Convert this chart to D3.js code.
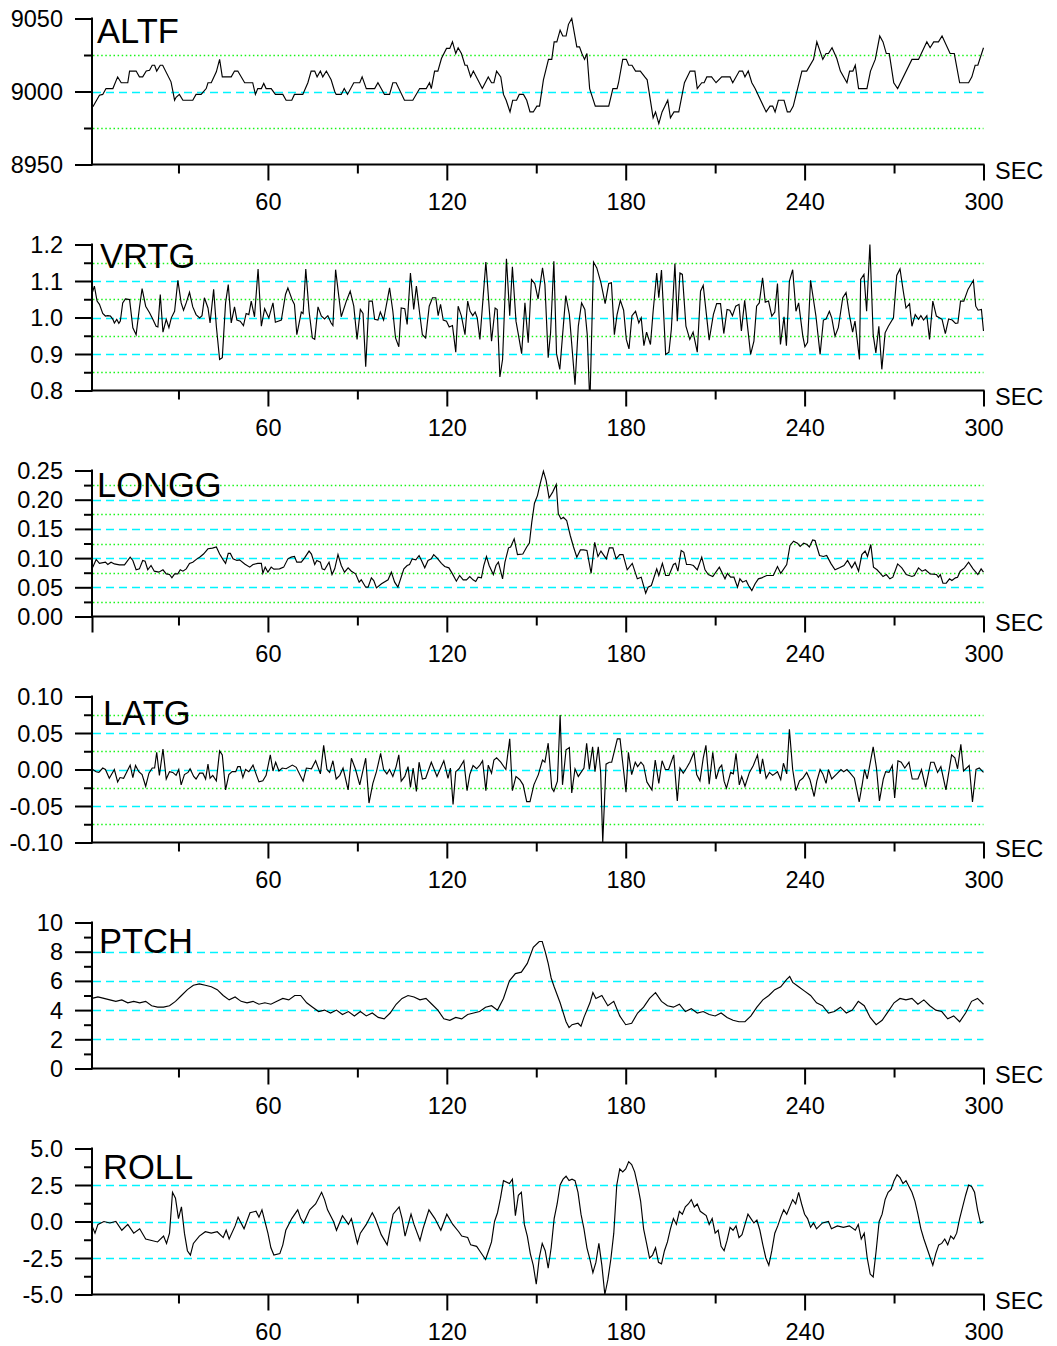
<!DOCTYPE html>
<html>
<head>
<meta charset="utf-8">
<script src="https://cdn.jsdelivr.net/npm/d3@7"></script>
<style>
  html, body { margin: 0; padding: 0; background: #fff; }
  svg { display: block; }
  text { font-family: "Liberation Sans", Arial, Helvetica, sans-serif; fill: #000; }
</style>
</head>
<body>
<svg id="chart" width="1057" height="1346"></svg>
<script>
// ---------------- DATA (time in SEC, value) ----------------
const xMajorTicks = [60, 120, 180, 240, 300];
const xMinorTicks = [30, 90, 150, 210, 270];
const xLabel = "SEC";

const panelNames = ["ALTF", "VRTG", "LONGG", "LATG", "PTCH", "ROLL"];
const panelDomains = [[8950, 9050], [0.8, 1.2], [0, 0.25], [-0.10, 0.10], [0, 10], [-5, 5]];
const panelMajorTicks = [
  [8950, 9000, 9050],
  [0.8, 0.9, 1.0, 1.1, 1.2],
  [0, 0.05, 0.10, 0.15, 0.20, 0.25],
  [-0.10, -0.05, 0, 0.05, 0.10],
  [0, 2, 4, 6, 8, 10],
  [-5, -2.5, 0, 2.5, 5]
];
const panelMinorTicks = [
  [8975, 9025],
  [0.85, 0.95, 1.05, 1.15],
  [0.025, 0.075, 0.125, 0.175, 0.225],
  [-0.075, -0.025, 0.025, 0.075],
  [1, 3, 5, 7, 9],
  [-3.75, -1.25, 1.25, 3.75]
];
const panelTickFormats = ["d", ".1f", ".2f", ".2f", "d", ".1f"];

const ALTF = [[1.3,8989.5],[3.5,8997.5],[4.6,8998],[5.7,9002],[8,9002],[9.6,9010],[10.8,9006],[13,9006],[13.6,9014],[15.8,9014],[16.9,9010],[18,9010],[19.2,9014],[20.3,9014.6],[21.2,9018],[22,9018],[22.7,9014],[23.9,9018],[24.7,9018],[27.5,9006.6],[28.1,9000.5],[28.7,8994],[29.2,8996],[30.3,8998],[31.5,8994],[34.8,8994],[35.9,8998],[37.6,8998],[39.3,9002],[39.9,9006],[41,9006],[42.7,9013.5],[43.8,9022],[44.7,9010],[47.7,9010],[48.8,9014],[49.9,9014],[52.2,9006],[54.9,9006],[55.8,8998],[56.6,9002],[57.8,9002],[58.6,9005.5],[59.4,9002],[61.1,9002],[62.5,8998],[65,8998],[66.1,8994],[68,8994],[68.9,8998],[71.7,8998],[73.4,9006],[74.5,9014],[75.7,9014],[76.5,9010],[77.6,9014],[78.4,9010],[79.6,9014],[81.2,9008],[82.4,9000],[82.9,8998],[84.6,8998],[85.6,9002],[86.7,8998],[88.8,9006],[90.8,9006],[91.6,9010],[93,9002],[95.8,9002],[96.9,9006],[99.1,8998],[100.8,8998],[101.9,9006],[103,9006],[105.8,8994],[108.6,8994],[110.9,9002],[113.1,9002],[114.2,9006],[114.8,9002],[115.9,9014],[117,9014],[118.2,9022.6],[119.9,9029.5],[121,9029.5],[121.9,9034],[123,9026],[123.8,9030],[124.9,9026],[126.1,9018],[126.8,9018],[128,9010],[128.9,9014],[131.9,9002],[133.9,9010],[135,9006],[135.8,9006],[136.7,9014],[138.1,9010],[139,8998],[139.9,8994],[141.2,8986],[142.1,8994],[143.4,8994],[144.3,8998],[145.7,8998],[146.8,8994],[147.9,8986],[149,8986],[150.2,8990],[151.1,8990],[152.4,9008],[154.1,9022],[155.2,9022],[156,9034],[156.9,9034],[158,9042],[158.9,9038],[160,9038],[160.8,9046],[161.9,9050],[163.6,9030.6],[164.5,9030.6],[165.3,9026],[166.2,9022],[167,9026],[167.9,9002],[169.8,8990],[174.3,8990],[175.7,9002],[177.1,9002],[177.6,9006],[179,9022],[180.2,9022],[181,9018],[182.1,9018],[183.3,9014],[184.9,9014],[186.4,9010],[187.2,9008],[189.2,8982],[190,8986],[191.1,8978],[192.2,8986],[194.1,8994],[195,8982],[196.2,8986],[197.8,8986],[199.7,9006],[201.6,9014],[203.2,9014],[204,9002],[205.5,9006],[206.3,9006],[207.2,9010],[208.8,9010],[210.3,9006],[212.2,9010],[215,9010],[215.9,9006],[218.1,9014],[219.2,9014],[220,9010],[221.1,9014],[222.3,9006],[223.4,9002],[227.1,8986],[228.4,8990],[229.3,8990],[230.1,8986],[231.2,8994],[233.1,8994],[234.2,8986],[235.1,8986],[236.2,8990],[239.1,9014],[240.7,9014],[243,9022],[244.1,9034],[246.1,9022],[247.2,9026],[248,9026],[249.2,9030],[250.8,9022.6],[252,9014],[254.2,9006],[255.1,9014],[256.2,9014],[257,9018],[258.1,9002],[260.9,9002],[262.1,9014],[263.7,9022],[265.2,9038],[266.3,9034],[267.4,9026],[268.4,9026],[269.9,9006],[271.2,9002],[276,9022],[278.2,9022],[281,9034],[282.1,9030],[283.3,9034],[284.9,9034],[286.1,9038],[288.8,9026],[290.2,9026],[292,9006],[295,9006],[296.1,9010],[297.2,9018],[298.1,9018],[300,9030]];

const VRTG = [[1.2,1.07],[1.8,1.086],[2.7,1.045],[3.5,1.036],[4.6,1.011],[5.5,1.004],[6.3,1.005],[7.2,1.004],[8,0.995],[8.5,0.985],[9.3,0.995],[10,0.984],[10.5,0.99],[11.3,1.04],[12.2,1.051],[13.6,1.049],[14.7,0.972],[15.8,0.953],[16.9,1.026],[17.8,1.079],[19,1.031],[20.3,1.013],[21.4,0.995],[22.5,0.976],[23.1,0.974],[23.9,1.063],[24.8,0.96],[25.9,0.995],[26.8,0.972],[27.6,0.999],[28.7,1.017],[29.8,1.102],[30.9,1.04],[31.7,1.02],[32.6,1.04],[33.7,1.069],[34.8,1.029],[35.9,1.008],[37.1,0.999],[37.9,1.005],[38.7,1.054],[39.9,1.026],[40.6,0.985],[41.8,1.077],[42.7,0.976],[43.8,0.885],[44.7,0.89],[45.8,1.04],[46.7,1.09],[47.7,0.985],[48.8,1.029],[49.6,0.993],[50.7,0.99],[51.8,0.978],[52.7,1.011],[53.6,1.008],[54.4,1.045],[55.5,1.002],[56.7,1.133],[57.8,0.976],[58.9,1.024],[60.3,0.999],[61.7,1.04],[62.5,0.987],[64.5,0.993],[65.9,1.063],[66.7,1.081],[68.2,1.047],[68.9,1.036],[69.7,0.953],[71.2,1.015],[71.8,1.011],[72.7,1.133],[73.8,1.017],[74.9,0.944],[75.7,0.94],[76.8,1.029],[77.9,1.004],[79,0.996],[80.1,1.005],[81.2,0.985],[81.8,0.978],[82.7,1.131],[84.6,1.002],[86.3,1.045],[87.6,1.072],[88.8,1.031],[89.9,0.94],[91,1.022],[91.9,1.011],[92.8,0.865],[93.9,1.045],[95,1.045],[95.8,0.995],[96.9,0.993],[97.7,1.015],[98.8,0.993],[100.8,1.081],[101.9,1.017],[102.8,0.944],[103.9,0.92],[104.7,1.026],[105.9,1.024],[106.7,0.981],[107.8,1.122],[108.9,1.022],[109.8,1.086],[110.9,1.011],[111.8,0.953],[112.9,0.944],[114.1,1.031],[115.2,1.054],[116.3,1.054],[117.1,1.005],[117.9,1.036],[118.8,0.993],[119.9,0.99],[120.8,0.974],[121.9,0.978],[123,0.905],[123.8,1.031],[124.9,1.004],[126.1,0.953],[127,1.045],[127.8,1.017],[128.7,1.005],[129.5,1.015],[130.2,0.999],[131.1,0.94],[132,1.036],[133.1,1.152],[133.9,1.063],[135,0.935],[136.2,1.026],[136.9,1.022],[137.8,0.837],[138.7,0.885],[140,1.161],[141.1,1.005],[142,1.139],[143.2,0.99],[143.9,0.958],[145.1,0.901],[146.2,1.04],[147.3,0.931],[148.4,1.104],[149.5,1.093],[150.6,1.051],[152.1,1.136],[152.9,1.09],[154,0.89],[154.8,0.958],[155.9,1.154],[156.8,0.901],[157.9,0.858],[159.9,1.06],[161.1,1.008],[163,0.816],[164.1,0.976],[165.2,1.04],[166.3,1.022],[167.1,0.953],[167.8,0.8],[168.1,0.8],[169.2,1.152],[170.3,1.136],[171.7,1.095],[173.1,1.038],[174.3,1.093],[175.2,1.095],[176.2,0.953],[177.1,1.008],[178.2,1.047],[179.3,1.02],[180.2,0.94],[181.1,0.914],[182.1,1.005],[183.3,1.017],[184.4,0.985],[185.2,0.999],[186.1,0.923],[187,0.96],[188.3,0.926],[189.2,1.017],[190.4,1.122],[191.1,1.054],[192,1.13],[193.4,0.899],[194.5,0.905],[195.3,0.967],[196.5,1.148],[197.3,0.99],[198.2,1.122],[199,1.118],[200.2,0.976],[201.5,0.94],[202.6,0.96],[204,0.905],[205.1,1.072],[206,1.088],[208,0.938],[209.4,1.008],[210.5,1.038],[211.8,1.038],[212.9,0.956],[214,1.022],[214.9,1.02],[215.8,1.005],[216.9,1.031],[218,1.036],[218.8,0.963],[219.9,1.047],[221.9,0.899],[223,0.935],[223.9,1.031],[224.8,1.04],[225.9,1.109],[226.8,1.042],[227.9,1.045],[229,1.004],[230,1.015],[230.9,1.093],[231.9,0.926],[233.1,1.002],[233.9,0.923],[234.9,1.1],[236,1.131],[237.1,1.017],[238,1.04],[239.4,0.949],[240.1,0.92],[241,0.932],[242,1.102],[243.8,1.004],[245.2,0.899],[246.3,0.993],[247.2,0.996],[248.3,1.017],[249.1,0.999],[250.2,0.949],[251.3,0.972],[252.8,1.054],[253.9,1.068],[255,1.008],[256.1,0.96],[256.9,0.99],[258.4,0.885],[258.8,1.104],[259.9,1.118],[260.8,1.017],[261.9,1.2],[263,0.953],[263.9,0.903],[264.9,0.976],[265.9,0.858],[267,0.958],[268.1,0.976],[269.8,0.999],[270.9,1.115],[272,1.133],[273.1,1.072],[274,1.026],[275.2,1.038],[276,0.976],[277.1,1.008],[278.2,0.995],[279,1.005],[279.9,0.993],[281,1.005],[281.9,0.94],[283,1.045],[284.2,1.004],[286.1,0.995],[287.2,0.956],[288.3,0.996],[289.5,0.993],[290.6,0.984],[291.4,0.985],[292.3,1.045],[293.4,1.045],[294.8,1.077],[296.6,1.102],[297.4,1.031],[298.2,1.02],[299.3,1.022],[300,0.963]];

const LONGG = [[1.25,0.0845],[2.4,0.0976],[3.5,0.091],[5.5,0.093],[6.3,0.089],[7.4,0.093],[8.5,0.09],[10.2,0.0885],[11.9,0.0885],[13.8,0.1016],[14.7,0.096],[15.8,0.08],[16.9,0.0816],[18,0.096],[18.8,0.0947],[19.7,0.08],[20.8,0.0873],[21.9,0.0776],[23.4,0.0759],[24.8,0.08],[25.9,0.073],[27,0.0719],[27.8,0.0662],[28.7,0.073],[29.8,0.073],[30.6,0.08],[31.5,0.0776],[32.6,0.0816],[33.7,0.091],[34.8,0.093],[36.2,0.0987],[37.1,0.1016],[38.4,0.107],[39.9,0.116],[41.4,0.117],[42.7,0.119],[43.8,0.107],[45,0.097],[45.8,0.091],[46.7,0.108],[47.4,0.108],[48.3,0.0987],[49.6,0.096],[50.5,0.097],[52.2,0.09],[53.9,0.0845],[55,0.089],[56.6,0.091],[57.8,0.091],[58.3,0.074],[59.1,0.0845],[60,0.0759],[61.1,0.0845],[62,0.081],[63.9,0.0816],[65.3,0.0845],[66.7,0.0987],[67.8,0.1016],[68.9,0.1027],[69.7,0.093],[71.2,0.093],[72.3,0.1004],[73.8,0.112],[74.6,0.107],[75.7,0.089],[76.4,0.096],[77.6,0.093],[78.2,0.0816],[79,0.08],[80.5,0.093],[81.5,0.0719],[82.4,0.0816],[83.5,0.106],[84.6,0.0873],[85.7,0.0759],[86.9,0.0833],[88,0.0776],[89.4,0.073],[90.6,0.0588],[91.3,0.0628],[92.8,0.0502],[93.6,0.0502],[94.7,0.0662],[95.5,0.0616],[96.4,0.049],[98.1,0.056],[100.3,0.0628],[101.4,0.0759],[102.5,0.0588],[103.6,0.0502],[105.6,0.0816],[106.7,0.0873],[107.5,0.089],[108.4,0.0987],[109.6,0.097],[110.7,0.1044],[111.5,0.096],[112.6,0.0833],[113.7,0.096],[114.8,0.0987],[115.6,0.106],[116.7,0.1004],[118.2,0.091],[119.3,0.0856],[120.7,0.0833],[121.9,0.073],[123.2,0.0605],[124.3,0.0702],[125.5,0.0628],[126.6,0.0628],[127.7,0.0685],[128.8,0.0628],[129.7,0.06],[130.5,0.0673],[131.6,0.0662],[132.4,0.0873],[133.3,0.1027],[134.2,0.0873],[135.6,0.0719],[136.5,0.0873],[137.3,0.093],[138.7,0.0645],[139.5,0.093],[140.7,0.1176],[141.4,0.119],[142.6,0.133],[143.7,0.106],[145.5,0.107],[146.8,0.119],[147.7,0.1256],[148.5,0.1615],[149.4,0.194],[150.4,0.207],[151.3,0.227],[152.4,0.249],[153.3,0.233],[154.3,0.203],[155.5,0.213],[156.7,0.226],[157.4,0.1758],[158.3,0.167],[159.1,0.17],[160.2,0.1644],[161.4,0.1387],[162.5,0.119],[163.6,0.1016],[164.8,0.114],[165.9,0.114],[167,0.113],[168.4,0.074],[169.6,0.127],[170.7,0.1027],[171.7,0.112],[173.5,0.0987],[174.5,0.1176],[175.7,0.1176],[176.8,0.0987],[178,0.106],[179.1,0.106],[180.5,0.08],[182.2,0.091],[183.9,0.0645],[185.2,0.0673],[186.7,0.04],[187.5,0.0502],[188.6,0.053],[190.4,0.0816],[191.1,0.0702],[192.3,0.091],[193.4,0.0702],[194.5,0.0702],[196,0.089],[196.7,0.091],[197.5,0.0776],[198.6,0.113],[199.5,0.11],[200.4,0.089],[201.6,0.089],[202.7,0.0873],[204,0.08],[205.5,0.1016],[206.6,0.08],[207.7,0.0719],[209.2,0.0685],[211.4,0.0845],[213.3,0.0645],[214.1,0.074],[215.2,0.0673],[216.3,0.0673],[217.5,0.0502],[218.3,0.0645],[219.2,0.0588],[220.4,0.0616],[221.2,0.053],[222.3,0.0445],[223.4,0.056],[224.5,0.0645],[225.6,0.0662],[227.3,0.0702],[229.5,0.0702],[230.9,0.0856],[232,0.074],[234,0.089],[235.1,0.1216],[236.3,0.129],[237.6,0.1256],[238.5,0.12],[239.7,0.1256],[240.8,0.1233],[241.6,0.119],[242.7,0.131],[243.5,0.13],[245,0.1044],[246.3,0.1027],[247.4,0.1044],[248.8,0.091],[250.2,0.08],[251.7,0.0833],[253.2,0.0873],[254.4,0.096],[255.8,0.0833],[256.9,0.093],[258.1,0.0776],[259.2,0.106],[260.3,0.112],[261.1,0.1027],[262.2,0.1233],[263.1,0.0845],[264.3,0.08],[265.4,0.074],[266.3,0.0685],[267.4,0.0719],[268.6,0.0645],[269.6,0.0673],[271.2,0.09],[272.6,0.0833],[274.1,0.0719],[276,0.0685],[276.8,0.0702],[278.2,0.0833],[279.4,0.0776],[280.5,0.08],[282.1,0.073],[284.2,0.0719],[284.9,0.0673],[285.5,0.0719],[286.4,0.057],[287.5,0.057],[288.6,0.0645],[289.4,0.0616],[290.6,0.0662],[291.3,0.0673],[292.2,0.0776],[293.6,0.0833],[295,0.093],[296.5,0.0816],[298.1,0.0719],[299.2,0.0816],[300,0.0759]];

const LATG = [[1.25,0],[2.4,-0.003],[3.3,-0.004],[4.6,0.002],[5.5,0],[6.8,-0.012],[8.5,0],[9.6,-0.017],[10.4,-0.011],[11.6,-0.012],[12.7,-0.003],[13.8,0.006],[14.7,-0.011],[15.6,0.0055],[16.7,-0.003],[17.8,-0.007],[19,-0.023],[20.1,-0.005],[21.2,0.002],[22,0.002],[22.7,0.0236],[23.6,-0.008],[24.8,0.028],[25.9,-0.013],[27,-0.003],[28.1,-0.004],[29.2,-0.008],[30.1,0],[30.9,-0.021],[32,-0.007],[33.2,-0.004],[33.9,0.001],[35.1,-0.0095],[35.9,-0.013],[37.1,-0.005],[38.2,-0.005],[39.1,-0.013],[39.9,0.0073],[40.6,-0.012],[41.5,-0.008],[42.7,-0.0155],[43.8,0.0255],[44.7,0.02],[45.8,-0.028],[46.9,-0.007],[48,-0.003],[49.2,-0.003],[49.9,0.004],[50.7,0.004],[51.6,-0.011],[52.5,0],[53.6,-0.003],[55,0.006],[56.1,-0.007],[57,-0.017],[58.3,-0.0155],[59.4,-0.008],[60.8,0.02],[61.7,-0.002],[62.6,0.01],[63.7,-0.002],[64.8,0.002],[66.1,0.001],[68.2,0.006],[69.5,0.003],[71.8,-0.016],[72.9,0.002],[74.6,0.001],[76,0.012],[77.6,-0.006],[78.7,0.033],[79.8,0],[80.7,-0.004],[81.8,0.012],[82.9,-0.013],[84.1,-0.008],[85.2,0.002],[86.9,-0.028],[88,0.0155],[89.4,0],[90.8,-0.021],[92.8,0.0155],[93.9,-0.046],[95.2,-0.019],[96.4,-0.003],[97.8,0.022],[98.8,0],[99.9,-0.006],[100.8,0],[101.9,-0.0095],[103,0.004],[103.9,0.02],[104.7,-0.016],[105.9,-0.0095],[107,0.004],[107.8,-0.0245],[108.7,0.002],[109.8,-0.03],[110.7,0.01],[111.8,-0.013],[112.9,-0.012],[114.8,0.01],[116.7,-0.0095],[119,0.012],[120.4,-0.012],[121.2,0.002],[122.1,-0.048],[123,-0.003],[124.1,0.001],[125.7,0.012],[126.8,-0.029],[127.7,-0.007],[128.8,0.0055],[130,0.001],[131.1,0.006],[132,0.012],[133.1,-0.029],[133.9,0.006],[135,-0.005],[135.8,0.013],[136.7,0.016],[138.1,0.01],[139.8,0],[141.1,0.042],[142,-0.029],[143.2,-0.0095],[144.5,-0.014],[145.6,-0.021],[146.8,-0.044],[147.9,-0.044],[149.2,-0.021],[150.7,-0.007],[152.1,0.013],[152.9,0.01],[154,0.036],[155.2,-0.0255],[155.9,-0.03],[157.1,-0.016],[158,0.0745],[158.8,-0.021],[160,0.027],[161.1,0.03],[161.9,-0.032],[163,0.001],[164.1,-0.0095],[166,0.002],[166.9,0.036],[167.8,0],[168.9,0.031],[169.7,-0.003],[170.8,0.031],[171.6,-0.004],[172.3,-0.1],[173.4,0.0073],[174.5,0.01],[175.3,0.01],[177.2,0.042],[178.1,0.042],[180.1,-0.031],[180.9,0.0236],[182,-0.007],[183.2,0.01],[184,0.004],[185.1,0.01],[186,0.0055],[187.1,-0.017],[188.8,-0.028],[189.9,0.013],[191.1,-0.019],[192.2,0.012],[193.3,0],[194.4,0],[196.1,0.02],[197.3,-0.043],[198.2,0.002],[199.3,-0.005],[200.4,0.002],[201.5,0.01],[202.9,0.0236],[203.8,-0.007],[204.9,-0.0155],[206,0.0155],[206.9,0.033],[208,-0.02],[209.2,0.0236],[210.3,-0.013],[211.4,0.002],[212.2,0.006],[213,-0.016],[213.8,-0.0255],[215.2,-0.004],[216.1,-0.006],[217,0.022],[218.1,-0.021],[218.9,-0.0095],[220,-0.023],[221.5,-0.004],[222.8,0.0055],[224.2,0.02],[225.1,-0.006],[225.9,0.0145],[227.1,-0.012],[228.2,-0.004],[229.3,-0.008],[230.9,-0.003],[232,-0.014],[232.9,0.0086],[234,-0.006],[234.9,0.055],[236,0],[237.1,-0.029],[238.3,-0.0155],[239.4,-0.012],[240.7,-0.004],[241.8,-0.014],[243.2,-0.037],[244.1,-0.016],[245.2,0],[246.1,-0.006],[247.2,-0.019],[248,0],[249.1,-0.013],[250.8,-0.006],[252.2,0],[253.1,-0.003],[254.2,0],[255.3,-0.005],[256.7,-0.012],[257.6,-0.03],[258.3,-0.0445],[259.3,-0.021],[260.1,0],[261,-0.013],[263,0.031],[264.1,0.002],[265.1,-0.043],[266.4,-0.013],[267.2,-0.003],[268.3,-0.004],[269.4,0.0055],[270.2,-0.039],[271.3,0.012],[272.4,0.01],[273.6,0.002],[275,0.01],[276.1,-0.013],[278,-0.013],[279.2,0],[280.6,-0.0245],[282.3,0.01],[283.4,0.01],[284.6,-0.004],[285.7,0.004],[287.4,-0.028],[289.3,0.02],[290.4,0.016],[291.3,0.001],[292.4,0.0345],[293.3,-0.002],[295.2,0.0055],[296.3,-0.0445],[297.5,0],[298.6,0.002],[300,-0.004]];

const PTCH = [[1,4.8],[3,4.9],[5,4.8],[7,4.7],[9,4.6],[11,4.7],[13,4.5],[15,4.6],[17,4.5],[19,4.6],[21,4.3],[23,4.2],[25,4.2],[27,4.3],[29,4.6],[31,5.0],[33,5.4],[35,5.7],[37,5.8],[39,5.7],[41,5.6],[43,5.4],[45,5.0],[47,4.7],[49,4.9],[51,4.6],[53,4.5],[55,4.6],[57,4.4],[59,4.5],[61,4.4],[63,4.6],[65,4.8],[67,4.7],[69,5.0],[71,5.0],[73,4.5],[75,4.2],[77,3.9],[79,4.0],[81,3.8],[83,4.0],[85,3.7],[87,3.9],[89,3.6],[91,3.9],[93,3.6],[95,3.8],[97,3.5],[99,3.4],[101,3.8],[103,4.4],[105,4.8],[107,5.0],[109,4.9],[111,4.7],[113,4.8],[115,4.4],[117,4.0],[119,3.4],[121,3.3],[123,3.5],[125,3.4],[127,3.7],[129,3.8],[131,3.9],[133,4.2],[135,4.3],[137,4.0],[139,4.8],[141,6.0],[143,6.5],[145,6.6],[147,7.2],[149,8.3],[151,8.7],[152,8.7],[153,8.0],[154,7.2],[155,6.2],[156,5.6],[158,4.5],[160,3.2],[161,2.8],[162,3.0],[164,3.1],[165,2.9],[166,3.5],[168,4.5],[169,5.2],[170,4.8],[172,5.0],[174,4.3],[176,4.6],[178,3.6],[180,3.0],[182,3.1],[184,3.8],[186,4.2],[188,4.8],[190,5.2],[192,4.6],[194,4.3],[196,4.2],[198,4.4],[200,3.9],[202,4.1],[204,3.8],[206,3.9],[208,3.7],[210,3.6],[212,3.8],[214,3.5],[216,3.3],[218,3.2],[220,3.2],[222,3.6],[224,4.2],[226,4.7],[228,5.0],[230,5.4],[232,5.6],[234,6.1],[235,6.3],[236,5.9],[238,5.6],[240,5.3],[242,5.0],[244,4.5],[246,4.3],[248,3.8],[250,3.9],[252,4.2],[254,3.8],[256,4.0],[258,4.6],[260,4.3],[262,3.5],[264,3.0],[266,3.3],[268,3.9],[270,4.5],[272,4.8],[274,4.7],[276,4.8],[278,4.4],[280,4.7],[282,4.3],[284,4.0],[286,3.9],[288,3.4],[290,3.6],[292,3.2],[294,3.8],[296,4.6],[298,4.8],[300,4.4]];

const ROLL = [[1,-0.3],[2,-0.8],[3,-0.2],[5,0],[7,-0.1],[9,0],[11,-0.6],[13,-0.2],[15,-0.8],[17,-0.5],[19,-1.2],[21,-1.3],[23,-1.4],[25,-1.0],[26,-1.5],[27,-0.8],[28,2.0],[29,1.6],[30,0.2],[31,1.0],[32,-0.8],[33,-2.0],[34,-2.3],[35,-1.5],[37,-1.0],[39,-0.7],[41,-0.8],[43,-0.7],[45,-1.1],[46,-0.6],[47,-1.2],[49,-0.3],[50,0.3],[52,-0.5],[54,0.6],[56,0.7],[57,0.3],[58,0.8],[60,-0.8],[61,-1.8],[62,-2.3],[64,-2.2],[65,-1.6],[66,-0.6],[68,0.2],[70,0.8],[71,0.2],[72,-0.1],[74,0.8],[76,1.2],[78,2.0],[79,1.5],[80,0.8],[82,0],[83,-0.6],[85,0.4],[87,-0.2],[88,0.2],[90,-1.5],[91,-0.8],[93,-0.2],[95,0.6],[96,0.2],[98,-0.9],[100,-1.6],[101,-0.5],[102,0.5],[104,1.0],[105,0.2],[106,-1.0],[108,0.5],[109,-0.2],[111,-1.3],[112,-0.5],[114,0.8],[116,0.2],[118,-0.6],[120,0.5],[122,-0.2],[124,-0.7],[125,-1.0],[127,-1.1],[128,-1.6],[130,-1.7],[131,-2.0],[133,-2.6],[134,-2.0],[135,-1.4],[136,0],[137,0.6],[138,1.6],[139,2.8],[141,2.6],[142,2.9],[143,0.4],[144,1.8],[145,2.0],[146,-0.2],[147,-1.0],[148,-2.2],[149,-3.0],[150,-4.3],[151,-2.5],[152,-1.5],[153,-2.0],[154,-3.2],[155,-1.8],[156,0.2],[157,1.2],[158,2.5],[159,2.9],[160,3.1],[161,2.8],[162,2.9],[163,2.8],[164,2.0],[165,0.5],[166,-0.5],[167,-1.8],[168,-2.6],[169,-3.5],[170,-2.8],[171,-1.5],[172,-3.0],[173,-5.0],[174,-4.0],[175,-2.6],[176,-0.8],[177,2.5],[178,3.6],[179,3.4],[180,3.6],[181,4.1],[182,3.9],[183,3.4],[184,2.5],[185,1.4],[186,-0.5],[187,-1.5],[188,-2.5],[189,-2.3],[190,-1.8],[191,-2.8],[192,-2.9],[193,-2.0],[194,-1.4],[195,-0.5],[196,0.2],[197,-0.2],[198,0.7],[199,0.5],[200,1.0],[201,1.2],[202,1.5],[203,1.0],[204,1.2],[205,0.7],[207,0.4],[208,-0.2],[209,0.2],[210,-0.8],[211,-0.6],[212,-1.7],[213,-2.0],[214,-1.3],[215,-0.4],[216,-0.6],[217,-0.3],[218,-1.1],[219,-0.9],[220,-0.2],[221,0.5],[222,0.2],[223,-0.1],[224,0.1],[225,-0.6],[226,-1.6],[227,-2.5],[228,-3.0],[229,-2.0],[230,-0.8],[231,-0.3],[232,0.3],[233,0.8],[234,0.5],[235,1.0],[236,1.5],[237,1.2],[238,2.0],[239,1.2],[240,0.5],[241,0.2],[242,-0.4],[243,-0.1],[244,-0.5],[246,-0.1],[248,0.0],[249,-0.5],[251,-0.3],[253,-0.4],[255,-0.3],[257,-0.6],[258,-0.2],[259,-1.2],[260,-0.8],[261,-2.5],[262,-3.6],[263,-3.8],[264,-2.0],[265,0.0],[266,0.5],[267,1.5],[268,2.0],[269,2.2],[270,2.8],[271,3.2],[272,3.0],[273,2.6],[274,2.8],[275,2.4],[276,2.0],[277,1.4],[278,0.5],[279,-0.5],[280,-1.2],[281,-1.8],[282,-2.4],[283,-3.0],[284,-2.2],[285,-1.6],[286,-1.5],[287,-1.2],[288,-1.6],[289,-1.0],[290,-1.2],[291,-0.8],[292,0.2],[293,1.0],[294,1.8],[295,2.5],[296,2.4],[297,2.0],[298,0.8],[299,-0.1],[300,0.0]];

const panelData = [ALTF, VRTG, LONGG, LATG, PTCH, ROLL];

// ---------------- LAYOUT / STYLE ----------------
const layout = {
  firstTop: 18.5, pitch: 226, plotH: 146,
  x0: 92, x1: 983.5,
  titleX: [97, 100, 97, 103, 99, 103],
  titleBase: [24.5, 23, 26, 28.5, 30, 30],
  showMinorGrid: [true, true, true, true, false, false],
  zeroTick: [false, false, true, false, false, false]
};
const FONT_TICK = 23.5, FONT_TITLE = 34.5;
const CYAN = "#00f4ff", GREEN = "#19f519";

const svg = d3.select("#chart");
const x = d3.scaleLinear().domain([1, 300]).range([layout.x0, layout.x1]);
const snap = v => Math.round(v) + 0.5;

panelNames.forEach((name, i) => {
  const top = layout.firstTop + layout.pitch * i;
  const bottom = top + layout.plotH;
  const y = d3.scaleLinear().domain(panelDomains[i]).range([bottom, top]);
  const g = svg.append("g");
  const majors = panelMajorTicks[i];
  const minors = panelMinorTicks[i];
  const xEnd = x(300);

  // grid: cyan dashed at interior majors
  const interior = majors.filter(v => v !== panelDomains[i][0] && v !== panelDomains[i][1]);
  g.selectAll(".gmaj").data(interior).join("line")
    .attr("x1", layout.x0 + 1).attr("x2", xEnd)
    .attr("y1", d => snap(y(d))).attr("y2", d => snap(y(d)))
    .attr("stroke", CYAN).attr("stroke-width", 1.6)
    .attr("stroke-dasharray", "8,5");
  if (layout.showMinorGrid[i]) {
    g.selectAll(".gmin").data(minors).join("line")
      .attr("x1", layout.x0 + 1).attr("x2", xEnd)
      .attr("y1", d => snap(y(d))).attr("y2", d => snap(y(d)))
      .attr("stroke", GREEN).attr("stroke-width", 1.4)
      .attr("stroke-dasharray", "1.5,2.6");
  }

  // data line
  const line = d3.line().x(d => x(d[0])).y(d => y(d[1]));
  g.append("path").datum(panelData[i])
    .attr("d", line).attr("fill", "none")
    .attr("stroke", "#000").attr("stroke-width", 1.15)
    .attr("stroke-linejoin", "miter");

  // y axis (majors with labels)
  const fmt = d3.format(panelTickFormats[i]);
  const yAxis = d3.axisLeft(y).tickValues(majors).tickSize(17).tickPadding(12)
    .tickFormat(d => fmt(d).replace("\u2212", "-"));
  const ya = g.append("g").attr("transform", `translate(${layout.x0},0)`).call(yAxis);
  ya.select(".domain").remove();
  ya.selectAll("line").attr("stroke", "#000").attr("stroke-width", 2);
  ya.selectAll("text").attr("font-size", FONT_TICK).attr("font-family", "Liberation Sans, Arial, sans-serif")
    .attr("dy", "0.34em");
  const yAxisMin = d3.axisLeft(y).tickValues(minors).tickSize(8).tickFormat("");
  const ym = g.append("g").attr("transform", `translate(${layout.x0},0)`).call(yAxisMin);
  ym.select(".domain").remove();
  ym.selectAll("line").attr("stroke", "#000").attr("stroke-width", 2);

  // x axis
  const xTicks = layout.zeroTick[i] ? [1].concat(xMajorTicks) : xMajorTicks;
  const xAxis = d3.axisBottom(x).tickValues(xTicks).tickSize(16).tickPadding(13)
    .tickFormat(d => d === 1 ? "" : d);
  const xa = g.append("g").attr("transform", `translate(0,${bottom})`).call(xAxis);
  xa.select(".domain").remove();
  xa.selectAll("line").attr("stroke", "#000").attr("stroke-width", 2);
  xa.selectAll("text").attr("font-size", FONT_TICK).attr("font-family", "Liberation Sans, Arial, sans-serif");
  const xAxisMin = d3.axisBottom(x).tickValues(xMinorTicks).tickSize(9).tickFormat("");
  const xm = g.append("g").attr("transform", `translate(0,${bottom})`).call(xAxisMin);
  xm.select(".domain").remove();
  xm.selectAll("line").attr("stroke", "#000").attr("stroke-width", 2);

  // axis lines
  g.append("line").attr("x1", layout.x0).attr("x2", layout.x0)
    .attr("y1", top - 1).attr("y2", bottom + 1)
    .attr("stroke", "#000").attr("stroke-width", 2);
  g.append("line").attr("x1", layout.x0 - 1).attr("x2", xEnd + 1)
    .attr("y1", bottom).attr("y2", bottom)
    .attr("stroke", "#000").attr("stroke-width", 2);

  // SEC label
  g.append("text").attr("x", xEnd + 11.5).attr("y", bottom + 14.5)
    .attr("font-size", FONT_TICK).text(xLabel);

  // panel title
  g.append("text").attr("x", layout.titleX[i]).attr("y", top + layout.titleBase[i])
    .attr("font-size", FONT_TITLE).text(name);
});
</script>
</body>
</html>
